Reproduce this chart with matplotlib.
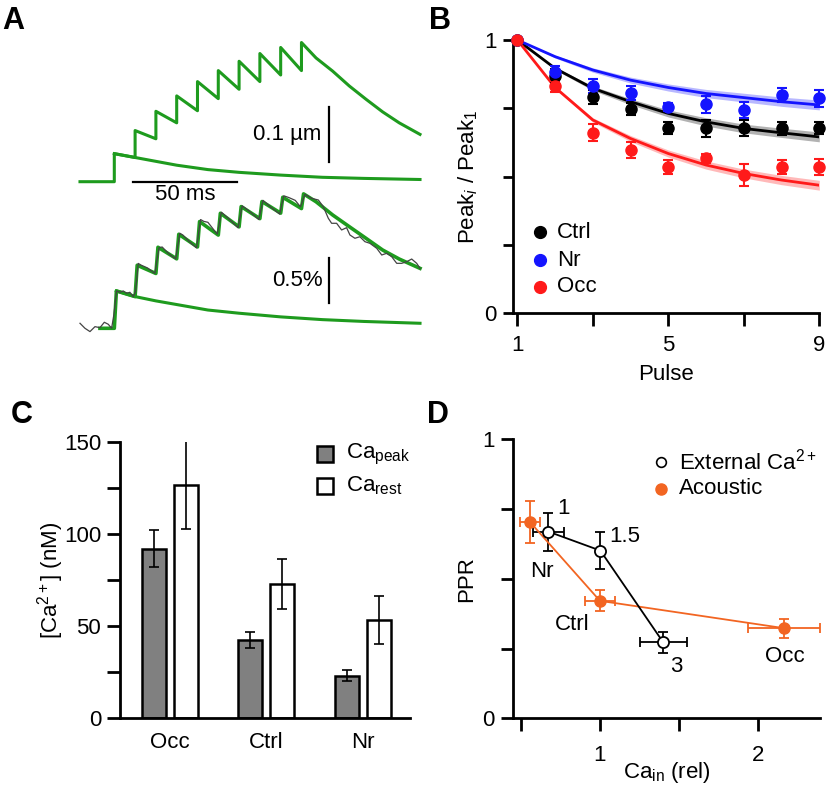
import numpy as np
import matplotlib.pyplot as plt

plt.rcParams['font.family'] = ['Liberation Sans', 'DejaVu Sans']
plt.rcParams['mathtext.fontset'] = 'custom'
plt.rcParams['mathtext.rm'] = 'Liberation Sans'
plt.rcParams['mathtext.it'] = 'Liberation Sans:italic'
plt.rcParams['mathtext.bf'] = 'Liberation Sans:bold'

W, H = 828, 791
GREEN = '#1e9b1e'
BLUE = '#1414ff'
RED = '#ff1a1a'
ORANGE = '#f26522'

# ---- A: displacement (um) and fluorescence (%) during a 10-pulse train, time in ms
pulse_t = [0, 10, 20, 30, 40, 50, 60, 70, 80, 90]
disp_peak = [0.051, 0.093, 0.128, 0.156, 0.182, 0.202, 0.219, 0.233, 0.244, 0.253]
disp_trough = [0.0, 0.044, 0.078, 0.107, 0.129, 0.151, 0.168, 0.182, 0.194, 0.202]
disp_tail_t = [97, 105, 113, 121, 129, 137, 147]
disp_tail = [0.225, 0.201, 0.174, 0.150, 0.127, 0.107, 0.086]
disp_single_t = [10, 20, 30, 45, 60, 80, 100, 120, 147]
disp_single = [0.044, 0.037, 0.030, 0.022, 0.017, 0.012, 0.008, 0.006, 0.004]

fl_peak = [0.409, 0.69, 0.887, 1.029, 1.168, 1.259, 1.332, 1.387, 1.434, 1.471]
fl_trough = [0.0, 0.347, 0.60, 0.76, 0.89, 1.02, 1.11, 1.20, 1.26, 1.31]
fl_tail_t = [97, 105, 113, 121, 129, 137, 147]
fl_tail = [1.385, 1.24, 1.112, 0.985, 0.857, 0.758, 0.656]
fl_single_t = [10, 20, 30, 45, 60, 80, 100, 120, 147]
fl_single = [0.347, 0.30, 0.26, 0.20, 0.165, 0.125, 0.095, 0.075, 0.055]

raw_t = [-16.5, -14.1, -11.7, -9.3, -6.9, -4.8, -2.9, -1.3, -0.2, 1.1,
         2.7, 4.3, 5.9, 7.5, 9.1, 10.2, 11.5, 13, 16, 19.5,
         21.5, 23, 26, 29.5, 31.5, 33, 36, 39.5, 41.5, 43,
         45, 49.5, 51.5, 55, 59.5, 61.5, 65, 69.5, 71.5, 75,
         79.5, 81.5, 84, 87, 89.5, 91.7, 94.9, 98.1, 100.5, 102.9,
         104.5, 106.9, 109.3, 111.7, 113.3, 115.7, 118.1, 120.5, 122.9, 126.2,
         128.6, 131.0, 133.4, 135.8, 138.2, 140.6, 143.0, 145.4, 147.0]
raw_v = [0.055, 0.0, -0.036, 0.018, 0.007, 0.066, 0.044, 0.0, 0.15, 0.409,
         0.394, 0.409, 0.383, 0.394, 0.347, 0.40, 0.71, 0.69, 0.66, 0.60,
         0.88, 0.89, 0.82, 0.76, 1.04, 1.02, 0.95, 0.88, 1.19, 1.17,
         1.16, 1.03, 1.27, 1.20, 1.10, 1.34, 1.28, 1.19, 1.40, 1.33,
         1.25, 1.45, 1.43, 1.40, 1.33, 1.466, 1.422, 1.404, 1.331, 1.204,
         1.149, 1.149, 1.076, 1.101, 1.021, 0.985, 1.002, 0.948, 0.930, 0.875,
         0.802, 0.821, 0.783, 0.711, 0.711, 0.729, 0.758, 0.711, 0.656]

# ---- B: normalised peak amplitude per pulse
pulse = [1, 2, 3, 4, 5, 6, 7, 8, 9]
ctrl_mean = [1.0, 0.868, 0.792, 0.748, 0.678, 0.676, 0.678, 0.676, 0.678]
ctrl_err = [0, 0.025, 0.025, 0.022, 0.022, 0.03, 0.03, 0.025, 0.022]
nr_mean = [1.0, 0.884, 0.831, 0.807, 0.755, 0.764, 0.743, 0.798, 0.786]
nr_err = [0, 0.02, 0.025, 0.025, 0.015, 0.03, 0.03, 0.025, 0.03]
occ_mean = [1.0, 0.831, 0.661, 0.597, 0.535, 0.566, 0.505, 0.535, 0.535]
occ_err = [0, 0.02, 0.03, 0.03, 0.025, 0.015, 0.04, 0.025, 0.03]
ctrl_fit = [1.0, 0.896, 0.823, 0.774, 0.731, 0.700, 0.676, 0.660, 0.645]
nr_fit = [1.0, 0.939, 0.890, 0.853, 0.826, 0.804, 0.789, 0.774, 0.762]
occ_fit = [1.0, 0.826, 0.707, 0.639, 0.584, 0.542, 0.511, 0.487, 0.468]
fit_band = [0, 0.005, 0.008, 0.011, 0.013, 0.015, 0.016, 0.017, 0.018]

# ---- C: calcium concentrations (nM)
groups = ['Occ', 'Ctrl', 'Nr']
ca_peak = [92, 42.5, 23.1]
ca_peak_err = [10, 4.5, 3]
ca_rest = [126.5, 72.8, 53.3]
ca_rest_err = [24, 13.5, 13]

# ---- D: paired-pulse ratio vs intracellular Ca
ext_x = [0.675, 1.003, 1.40]
ext_y = [0.669, 0.601, 0.272]
ext_xerr = [0.095, 0.0, 0.15]
ext_yerr = [0.068, 0.065, 0.038]
ext_labels = ['1', '1.5', '3']
ac_x = [0.559, 1.0, 2.163]
ac_y = [0.703, 0.421, 0.323]
ac_xerr = [0.063, 0.095, 0.23]
ac_yerr = [0.075, 0.038, 0.034]
ac_labels = ['Nr', 'Ctrl', 'Occ']

fig = plt.figure(figsize=(W / 100, H / 100), dpi=100)


def px_axes(x0, y0, x1, y1):
    return fig.add_axes([x0 / W, 1 - y1 / H, (x1 - x0) / W, (y1 - y0) / H])


def fig_xy(x, y):
    return x / W, 1 - y / H


def train_path(peaks, troughs, rise):
    t, v = [], []
    for i, p in enumerate(pulse_t):
        t += [p, p + rise]
        v += [troughs[i], peaks[i]]
    return t, v


def style_axes(ax, ylen, xlen, xpad):
    for s in ['top', 'right']:
        ax.spines[s].set_visible(False)
    for s in ['left', 'bottom']:
        ax.spines[s].set_linewidth(2)
    ax.tick_params(axis='y', direction='out', length=ylen, width=2, labelsize=16, pad=4)
    ax.tick_params(axis='x', direction='out', length=xlen, width=2, labelsize=16, pad=xpad)


# ---------------- A
axt = px_axes(75, 35, 425, 190)
axt.set_xlim(-18.9, 149.4)
axt.set_ylim(-0.0151, 0.2667)
axt.axis('off')
t, v = train_path(disp_peak, disp_trough, 0.0)
axt.plot([-16.5] + t + disp_tail_t, [0.0] + v + disp_tail, color=GREEN, lw=2.2)
axt.plot([0] + disp_single_t, [disp_peak[0]] + disp_single, color=GREEN, lw=2.2)
axt.plot([9.1, 59.1], [0, 0], color='k', lw=1.6)
axt.text(34, -0.024, '50 ms', ha='center', va='center', fontsize=16)
axt.plot([103.2, 103.2], [0.0353, 0.1353], color='k', lw=1.6)
axt.text(99.5, 0.086, '0.1 µm', ha='right', va='center', fontsize=16)

axf = px_axes(75, 185, 425, 340)
axf.set_xlim(-18.9, 149.4)
axf.set_ylim(-0.128, 1.568)
axf.axis('off')
t, v = train_path(fl_peak, fl_trough, 1.0)
axf.plot([-6.9] + t + fl_tail_t, [0.0] + v + fl_tail, color=GREEN, lw=2.6)
axf.plot([1] + fl_single_t, [fl_peak[0]] + fl_single, color=GREEN, lw=2.2)
axf.plot(raw_t, raw_v, color='#444444', lw=0.9)
axf.plot([103.2, 103.2], [0.274, 0.772], color='k', lw=1.6)
axf.text(100.3, 0.523, '0.5%', ha='right', va='center', fontsize=16)

# ---------------- B
axb = px_axes(512.7, 40, 819.3, 313)
axb.set_xlim(0.876, 9)
axb.set_ylim(0, 1)
style_axes(axb, 7.5, 9, 7)
for fit, mean, err, c in [(ctrl_fit, ctrl_mean, ctrl_err, 'k'),
                          (nr_fit, nr_mean, nr_err, BLUE),
                          (occ_fit, occ_mean, occ_err, RED)]:
    lo = np.array(fit) - np.array(fit_band)
    hi = np.array(fit) + np.array(fit_band)
    axb.fill_between(pulse, lo, hi, color=c, alpha=0.3, lw=0)
    axb.plot(pulse, fit, color=c, lw=2)
    axb.errorbar(pulse, mean, yerr=err, fmt='o', color=c, ms=8, capsize=3.5,
                 elinewidth=1.5, capthick=1.5, clip_on=False, zorder=5)
axb.set_xticks([1, 3, 5, 7, 9], ['1', '', '5', '', '9'])
axb.set_yticks([0, 0.25, 0.5, 0.75, 1], ['0', '', '', '', '1'])
axb.set_ylabel('Peak$_{i}$ / Peak$_1$', fontsize=16, va='center')
axb.yaxis.set_label_coords(-0.145, 0.5)
axb.set_xlabel('Pulse', fontsize=16, va='center')
axb.xaxis.set_label_coords(0.5, -0.227)
for name, c, y in [('Ctrl', 'k', 232), ('Nr', BLUE, 260), ('Occ', RED, 287)]:
    fig.lines.append(plt.Line2D(*[[a] for a in fig_xy(540, y)], marker='o', ms=8.5,
                                color=c, transform=fig.transFigure))
    fig.text(*fig_xy(557, y), name, fontsize=16, va='center')

# ---------------- C
axc = px_axes(120, 441.7, 410, 718.3)
axc.set_xlim(-0.514, 2.49)
axc.set_ylim(0, 150)
style_axes(axc, 9.5, 0, 10)
xs = np.arange(len(groups))
axc.bar(xs - 0.165, ca_peak, 0.248, color='#808080', edgecolor='k', lw=1.8)
axc.bar(xs + 0.165, ca_rest, 0.248, color='white', edgecolor='k', lw=1.8)
axc.errorbar(xs - 0.165, ca_peak, yerr=ca_peak_err, fmt='none', ecolor='k',
             elinewidth=1.2, capsize=3.5, capthick=1.2)
axc.errorbar(xs + 0.165, ca_rest, yerr=ca_rest_err, fmt='none', ecolor='k',
             elinewidth=1.2, capsize=3.5, capthick=1.2)
axc.set_xticks(xs, groups)
axc.set_yticks(np.arange(0, 151, 25), ['0', '', '50', '', '100', '', '150'])
axc.set_ylabel('[Ca$^{2+}$] (nM)', fontsize=16, va='center')
axc.yaxis.set_label_coords(-0.241, 0.5)
for name, fc, y in [('Ca$_{\\mathrm{peak}}$', '#808080', 454), ('Ca$_{\\mathrm{rest}}$', 'white', 486)]:
    fig.lines.append(plt.Line2D(*[[a] for a in fig_xy(325, y)], marker='s', ms=11,
                                mfc=fc, mec='k', mew=1.8, transform=fig.transFigure))
    fig.text(*fig_xy(346, y), name, fontsize=16, va='center')

# ---------------- D
axd = px_axes(512.7, 439.3, 820, 718.3)
axd.set_xlim(0.449, 2.39)
axd.set_ylim(0, 1)
style_axes(axd, 9, 9.5, 10)
axd.errorbar(ac_x, ac_y, xerr=ac_xerr, yerr=ac_yerr, fmt='-o', color=ORANGE,
             ms=8, lw=1.3, elinewidth=1.3, capsize=3.5, capthick=1.3, clip_on=False)
axd.errorbar(ext_x, ext_y, xerr=ext_xerr, yerr=ext_yerr, fmt='-o', color='k',
             mfc='white', mec='k', mew=1.3, ms=8, lw=1.3, elinewidth=1.3,
             capsize=3.5, capthick=1.3, clip_on=False)
for lab, x, y in zip(ext_labels, [0.768, 1.158, 1.48], [0.753, 0.653, 0.185]):
    axd.text(x, y, lab, fontsize=16, ha='center', va='center')
for lab, x, y in zip(ac_labels, [0.632, 0.822, 2.167], [0.525, 0.335, 0.222]):
    axd.text(x, y, lab, fontsize=16, ha='center', va='center')
axd.set_xticks([0.5, 1, 1.5, 2], ['', '1', '', '2'])
axd.set_yticks([0, 0.25, 0.5, 0.75, 1], ['0', '', '', '', '1'])
axd.set_ylabel('PPR', fontsize=16, va='center')
axd.yaxis.set_label_coords(-0.15, 0.5)
axd.set_xlabel('Ca$_{\\mathrm{in}}$ (rel)', fontsize=16, va='center')
axd.xaxis.set_label_coords(0.5, -0.195)
fig.lines.append(plt.Line2D(*[[a] for a in fig_xy(661, 462)], marker='o', ms=7,
                            mfc='white', mec='k', mew=1.2, transform=fig.transFigure))
fig.text(*fig_xy(679, 462), 'External Ca$^{2+}$', fontsize=16, va='center')
fig.lines.append(plt.Line2D(*[[a] for a in fig_xy(661, 489)], marker='o', ms=8,
                            color=ORANGE, transform=fig.transFigure))
fig.text(*fig_xy(679, 489), 'Acoustic', fontsize=16, va='center')

# panel letters
for lab, x, y in [('A', 2, 6), ('B', 429, 6), ('C', 11, 400), ('D', 427, 400)]:
    fig.text(*fig_xy(x, y), lab, fontsize=22, fontweight='bold', ha='left', va='top')

fig.savefig('out.png', dpi=100)
